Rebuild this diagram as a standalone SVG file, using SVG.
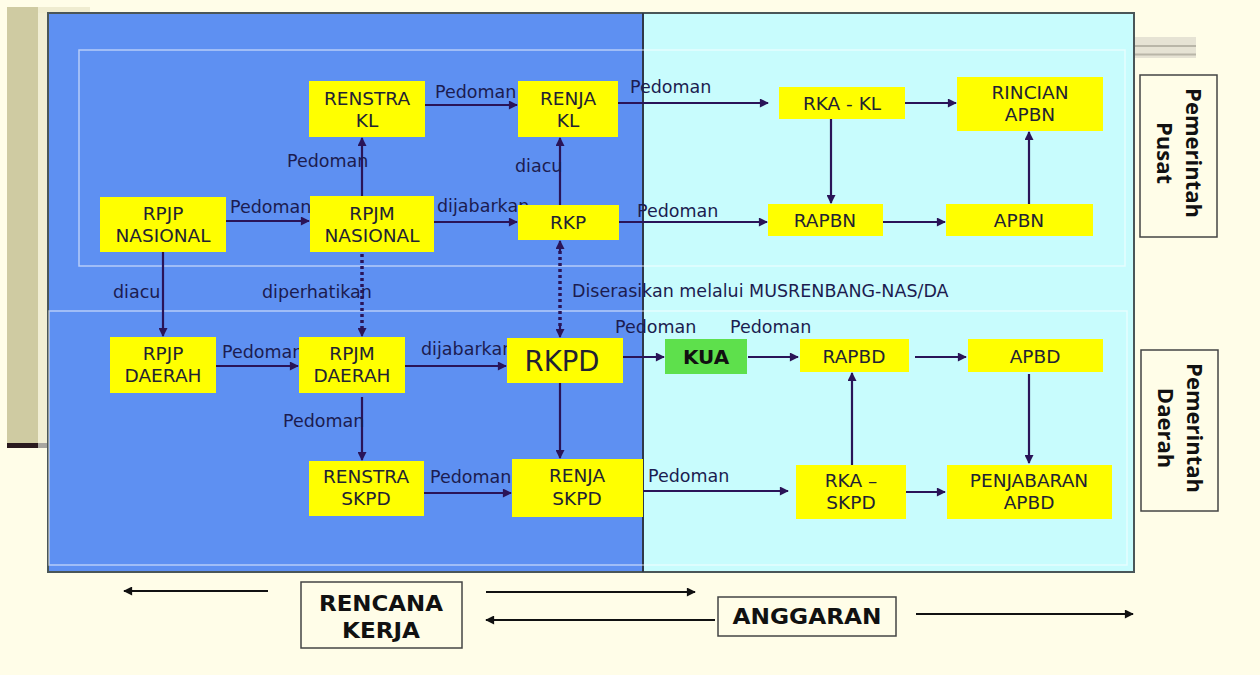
<svg xmlns="http://www.w3.org/2000/svg" width="1260" height="675" viewBox="0 0 1260 675">
<style>
.nd{fill:#ffff00}
.nt{font-family:"DejaVu Sans",Verdana,sans-serif;font-size:18.5px;fill:#222233;text-anchor:middle}
.lb{font-family:"DejaVu Sans",Verdana,sans-serif;font-size:17.5px;fill:#1c1c50}
.ar{fill:none;stroke:#2a1458;stroke-width:2.2;marker-end:url(#ah)}
.dt{fill:none;stroke:#2a1458;stroke-width:3.5;stroke-dasharray:3 3}
.bk{fill:none;stroke:#111;stroke-width:2;marker-end:url(#ahk)}
.sb{fill:none;stroke:#444;stroke-width:1.5}
.st{font-family:"Open Sans","DejaVu Sans",sans-serif;font-weight:bold;font-size:22px;fill:#111;text-anchor:middle}
.bt{font-family:"DejaVu Sans",sans-serif;font-weight:bold;font-size:21px;fill:#111;text-anchor:middle}
.fr{fill:none;stroke:#ffffff;stroke-opacity:0.55;stroke-width:1.5}
</style>
<defs>
<marker id="ah" viewBox="0 0 10 10" refX="9" refY="5" markerUnits="userSpaceOnUse" markerWidth="10" markerHeight="9" orient="auto-start-reverse"><path d="M0,0 L10,5 L0,10 z" fill="#2a1458"/></marker>
<marker id="ahk" viewBox="0 0 10 10" refX="9" refY="5" markerUnits="userSpaceOnUse" markerWidth="10" markerHeight="9" orient="auto"><path d="M0,0 L10,5 L0,10 z" fill="#111"/></marker>
</defs>

<!-- background -->
<rect x="0" y="0" width="1260" height="675" fill="#fffde8"/>
<rect x="7" y="7" width="31" height="440" fill="#cfcba2"/>
<rect x="38" y="7" width="52" height="7" fill="#efecd0"/>
<rect x="38" y="13" width="10" height="434" fill="#f1eed4"/>
<rect x="7" y="443" width="31" height="5" fill="#2a1a1e"/>
<rect x="38" y="443" width="10" height="5" fill="#a8a6a0"/>
<rect x="1135" y="37" width="61" height="21" fill="#e6e3d4"/>
<line x1="1135" y1="46" x2="1196" y2="46" stroke="#b9b6a8" stroke-width="2"/>
<line x1="1135" y1="54.5" x2="1196" y2="54.5" stroke="#b9b6a8" stroke-width="2"/>

<!-- panels -->
<rect x="48" y="13" width="595" height="559" fill="#5e90f2"/>
<rect x="643" y="13" width="491" height="559" fill="#c8fcfd"/>
<rect x="48" y="13" width="1086" height="559" fill="none" stroke="#4a5658" stroke-width="2"/>
<line x1="643" y1="13" x2="643" y2="572" stroke="#2f3848" stroke-width="2"/>
<rect class="fr" x="79" y="50" width="1046" height="216"/>
<rect class="fr" x="49" y="311" width="1078" height="254"/>

<!-- connectors -->
<g id="connectors">
<path class="ar" d="M226,221 H309"/>
<path class="ar" d="M362,196 V138"/>
<path class="ar" d="M425,105 H517"/>
<path class="ar" d="M434,222 H517"/>
<path class="ar" d="M560,205 V138"/>
<path class="ar" d="M618,103 H768"/>
<path class="ar" d="M905,103 H956"/>
<path class="ar" d="M831,119 V203"/>
<path class="ar" d="M619,222 H767"/>
<path class="ar" d="M883,222 H945"/>
<path class="ar" d="M1029,204 V132"/>
<path class="ar" d="M163,252 V336"/>
<path class="dt" d="M362,254 V328"/>
<path class="ar" d="M362,326 V336"/>
<path class="dt" d="M560,251 V328"/>
<path class="ar" d="M560,252 V241"/>
<path class="ar" d="M560,326 V337"/>
<path class="ar" d="M216,366 H298"/>
<path class="ar" d="M405,366 H506"/>
<path class="ar" d="M613,357 H664"/>
<path class="ar" d="M748,357 H798"/>
<path class="ar" d="M915,357 H966"/>
<path class="ar" d="M1029,374 V463"/>
<path class="ar" d="M362,397 V460"/>
<path class="ar" d="M560,383 V458"/>
<path class="ar" d="M424,493 H511"/>
<path class="ar" d="M643,491 H788"/>
<path class="ar" d="M852,465 V373"/>
<path class="ar" d="M905,492 H945"/>
<path class="bk" d="M268,591 H124"/>
<path class="bk" d="M486,592 H695"/>
<path class="bk" d="M715,620 H486"/>
<path class="bk" d="M916,614 H1133"/>
</g>

<!-- connector labels -->
<g id="labels">
<text class="lb" x="230" y="213">Pedoman</text>
<text class="lb" x="435" y="98">Pedoman</text>
<text class="lb" x="287" y="167">Pedoman</text>
<text class="lb" x="437" y="212">dijabarkan</text>
<text class="lb" x="515" y="172">diacu</text>
<text class="lb" x="630" y="93">Pedoman</text>
<text class="lb" x="637" y="217">Pedoman</text>
<text class="lb" x="113" y="298">diacu</text>
<text class="lb" x="262" y="298">diperhatikan</text>
<text class="lb" x="572" y="297">Diserasikan melalui MUSRENBANG-NAS/DA</text>
<text class="lb" x="222" y="358">Pedoman</text>
<text class="lb" x="421" y="355">dijabarkan</text>
<text class="lb" x="615" y="333">Pedoman</text>
<text class="lb" x="730" y="333">Pedoman</text>
<text class="lb" x="283" y="427">Pedoman</text>
<text class="lb" x="430" y="483">Pedoman</text>
<text class="lb" x="648" y="482">Pedoman</text>
</g>

<!-- nodes -->
<g id="rpjp-nasional"><rect class="nd" x="100" y="197" width="126" height="55"/><text class="nt" x="163" y="220">RPJP</text><text class="nt" x="163" y="242">NASIONAL</text></g>
<g id="rpjm-nasional"><rect class="nd" x="310" y="196" width="124" height="56"/><text class="nt" x="372" y="220">RPJM</text><text class="nt" x="372" y="242">NASIONAL</text></g>
<g id="renstra-kl"><rect class="nd" x="309" y="81" width="116" height="56"/><text class="nt" x="367" y="105">RENSTRA</text><text class="nt" x="367" y="127">KL</text></g>
<g id="renja-kl"><rect class="nd" x="518" y="81" width="100" height="56"/><text class="nt" x="568" y="105">RENJA</text><text class="nt" x="568" y="127">KL</text></g>
<g id="rkp"><rect class="nd" x="518" y="205" width="101" height="35"/><text class="nt" x="568" y="229">RKP</text></g>
<g id="rka-kl"><rect class="nd" x="779" y="87" width="126" height="32"/><text class="nt" x="842" y="110">RKA - KL</text></g>
<g id="rincian-apbn"><rect class="nd" x="957" y="77" width="146" height="54"/><text class="nt" x="1030" y="99">RINCIAN</text><text class="nt" x="1030" y="121">APBN</text></g>
<g id="rapbn"><rect class="nd" x="768" y="204" width="115" height="32"/><text class="nt" x="825" y="227">RAPBN</text></g>
<g id="apbn"><rect class="nd" x="946" y="204" width="147" height="32"/><text class="nt" x="1019" y="227">APBN</text></g>
<g id="rpjp-daerah"><rect class="nd" x="110" y="337" width="106" height="56"/><text class="nt" x="163" y="360">RPJP</text><text class="nt" x="163" y="382">DAERAH</text></g>
<g id="rpjm-daerah"><rect class="nd" x="299" y="337" width="106" height="56"/><text class="nt" x="352" y="360">RPJM</text><text class="nt" x="352" y="382">DAERAH</text></g>
<g id="rkpd"><rect class="nd" x="507" y="338" width="116" height="45"/><text class="nt" x="562" y="371" style="font-size:27.5px">RKPD</text></g>
<g id="kua"><rect x="665" y="339" width="82" height="35" fill="#5ee04c"/><text class="nt" x="706" y="364" style="font-size:20px;font-weight:bold;fill:#111">KUA</text></g>
<g id="rapbd"><rect class="nd" x="800" y="339" width="109" height="33"/><text class="nt" x="854" y="363">RAPBD</text></g>
<g id="apbd"><rect class="nd" x="968" y="339" width="135" height="33"/><text class="nt" x="1035" y="363">APBD</text></g>
<g id="renstra-skpd"><rect class="nd" x="309" y="461" width="115" height="55"/><text class="nt" x="366" y="483">RENSTRA</text><text class="nt" x="366" y="505">SKPD</text></g>
<g id="renja-skpd"><rect class="nd" x="512" y="459" width="131" height="58"/><text class="nt" x="577" y="482">RENJA</text><text class="nt" x="577" y="505">SKPD</text></g>
<g id="rka-skpd"><rect class="nd" x="796" y="465" width="110" height="54"/><text class="nt" x="851" y="487">RKA –</text><text class="nt" x="851" y="509">SKPD</text></g>
<g id="penjabaran-apbd"><rect class="nd" x="947" y="465" width="165" height="54"/><text class="nt" x="1029" y="487">PENJABARAN</text><text class="nt" x="1029" y="509">APBD</text></g>

<!-- side labels -->
<g id="pemerintah-pusat"><rect class="sb" x="1140" y="75" width="77" height="162"/><text class="st" transform="translate(1186,153) rotate(90)">Pemerintah</text><text class="st" transform="translate(1157,153) rotate(90)">Pusat</text></g>
<g id="pemerintah-daerah"><rect class="sb" x="1141" y="350" width="77" height="161"/><text class="st" transform="translate(1187,428) rotate(90)">Pemerintah</text><text class="st" transform="translate(1158,428) rotate(90)">Daerah</text></g>

<!-- bottom -->
<g id="rencana-kerja"><rect class="sb" x="301" y="582" width="161" height="66"/><text class="bt" x="381" y="611" textLength="124" lengthAdjust="spacingAndGlyphs">RENCANA</text><text class="bt" x="381" y="638" textLength="78" lengthAdjust="spacingAndGlyphs">KERJA</text></g>
<g id="anggaran"><rect class="sb" x="718" y="597" width="178" height="39"/><text class="bt" x="807" y="624" textLength="149" lengthAdjust="spacingAndGlyphs">ANGGARAN</text></g>
</svg>
